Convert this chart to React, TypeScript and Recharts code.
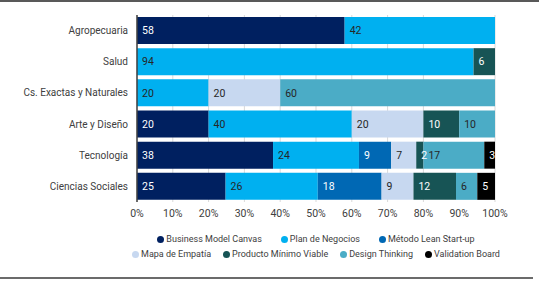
import { BarChart, Bar, XAxis, YAxis, CartesianGrid, LabelList } from 'recharts'

const CATEGORIES = [
  'Agropecuaria',
  'Salud',
  'Cs. Exactas y Naturales',
  'Arte y Diseño',
  'Tecnología',
  'Ciencias Sociales',
]

// one value per category, null where the method is not used
const BUSINESS_MODEL = [58, null, null, 20, 38, 25]
const PLAN_NEGOCIOS = [42, 94, 20, 40, 24, 26]
const LEAN_STARTUP = [null, null, null, null, 9, 18]
const MAPA_EMPATIA = [null, null, 20, 20, 7, 9]
const PRODUCTO_MINIMO = [null, 6, null, 10, 2, 12]
const DESIGN_THINKING = [null, null, 60, 10, 17, 6]
const VALIDATION_BOARD = [null, null, null, null, 3, 5]

const X_TICKS = [0, 0.1, 0.2, 0.3, 0.4, 0.5, 0.6, 0.7, 0.8, 0.9, 1]

const SERIES = [
  { key: 'bmc', name: 'Business Model Canvas', values: BUSINESS_MODEL, color: '#002060', text: '#ffffff' },
  { key: 'plan', name: 'Plan de Negocios', values: PLAN_NEGOCIOS, color: '#00B0F0', text: '#262626' },
  { key: 'lean', name: 'Método Lean Start-up', values: LEAN_STARTUP, color: '#0068B4', text: '#ffffff' },
  { key: 'mapa', name: 'Mapa de Empatía', values: MAPA_EMPATIA, color: '#C7D8F0', text: '#262626' },
  { key: 'pmv', name: 'Producto Mínimo Viable', values: PRODUCTO_MINIMO, color: '#175455', text: '#ffffff' },
  { key: 'design', name: 'Design Thinking', values: DESIGN_THINKING, color: '#4BACC6', text: '#262626' },
  { key: 'vb', name: 'Validation Board', values: VALIDATION_BOARD, color: '#000000', text: '#ffffff' },
]

const LEGEND_ROWS = [
  { keys: ['bmc', 'plan', 'lean'], gap: 19 },
  { keys: ['mapa', 'pmv', 'design', 'vb'], gap: 12 },
]

const FONT = 'Roboto, "Noto Sans", sans-serif'

function CategoryTick(props: any) {
  const { x, y, payload } = props
  return (
    <text x={x} y={y} dy="0.35em" textAnchor="end" fontSize={10} fill="#404040" fontFamily={FONT}>
      {payload.value}
    </text>
  )
}

export default function App() {
  const data = CATEGORIES.map((cat, i) => {
    const row: Record<string, string | number> = { cat }
    for (const s of SERIES) {
      const v = s.values[i]
      if (v != null) row[s.key] = v
    }
    return row
  })

  return (
    <div style={{ position: 'absolute', left: 0, top: 0, width: 539, height: 282, background: '#fff' }}>
      <div style={{ position: 'absolute', left: 0, top: 0, width: 539, height: 2, background: '#595959' }} />
      <div style={{ position: 'absolute', left: 0, top: 277, width: 533, height: 2, background: '#6b6b6b' }} />
      <BarChart
        width={539}
        height={282}
        data={data}
        layout="vertical"
        stackOffset="expand"
        barCategoryGap={2}
        margin={{ top: 15, right: 44, left: 0, bottom: 60 }}
      >
        <CartesianGrid horizontal={false} stroke="#D9D9D9" />
        <XAxis
          type="number"
          domain={[0, 1]}
          ticks={X_TICKS}
          tickFormatter={(v: number) => `${Math.round(v * 100)}%`}
          axisLine={false}
          tickLine={false}
          tickSize={0}
          tickMargin={8}
          tick={{ fontSize: 10.5, fill: '#404040', fontFamily: FONT }}
          height={20}
        />
        <YAxis
          type="category"
          dataKey="cat"
          width={137}
          axisLine={{ stroke: '#404040', strokeWidth: 1.5 }}
          tickLine={false}
          tickSize={0}
          tickMargin={9}
          tick={<CategoryTick />}
        />
        {SERIES.map((s) => (
          <Bar key={s.key} dataKey={s.key} name={s.name} stackId="a" fill={s.color} isAnimationActive={false}>
            <LabelList
              dataKey={s.key}
              position="insideLeft"
              offset={5}
              fill={s.text}
              fontSize={10.5}
              fontFamily={FONT}
              formatter={(v: unknown) => (v == null ? '' : String(v))}
            />
          </Bar>
        ))}
      </BarChart>
      <div
        style={{
          position: 'absolute',
          left: 137,
          width: 358,
          top: 232,
          fontFamily: FONT,
          fontSize: 9,
          color: '#404040',
          lineHeight: '15px',
        }}
      >
        {LEGEND_ROWS.map((row, i) => (
          <div key={i} style={{ display: 'flex', justifyContent: 'center', gap: row.gap, whiteSpace: 'nowrap' }}>
            {row.keys.map((k) => {
              const s = SERIES.find((x) => x.key === k)!
              return (
                <span key={k} style={{ display: 'flex', alignItems: 'center' }}>
                  <span
                    style={{
                      width: 7,
                      height: 7,
                      borderRadius: '50%',
                      background: s.color,
                      marginRight: 2,
                      display: 'inline-block',
                    }}
                  />
                  {s.name}
                </span>
              )
            })}
          </div>
        ))}
      </div>
    </div>
  )
}
